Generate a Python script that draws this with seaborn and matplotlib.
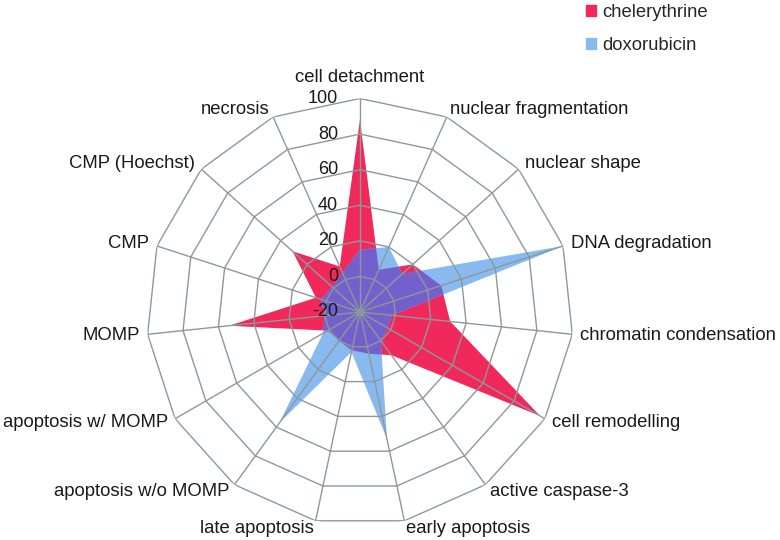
import numpy as np
import matplotlib
matplotlib.use("Agg")
import matplotlib.pyplot as plt
import matplotlib.transforms as mtransforms
from matplotlib.patches import Patch
import seaborn as sns

# values
categories = ['cell detachment', 'nuclear fragmentation', 'nuclear shape', 'DNA degradation',
              'chromatin condensation', 'cell remodelling', 'active caspase-3', 'early apoptosis',
              'late apoptosis', 'apoptosis w/o MOMP', 'apoptosis w/ MOMP', 'MOMP', 'CMP',
              'CMP (Hoechst)', 'necrosis']
chelerythrine = [88, 6, 20, 28, 31, 97, 10, 4, 2, 0, 1, 54, 6, 31, 8]
doxorubicin = [15, 20, 12, 100, -2, -2, 0, 53, 3, 57, 4, 0, 3, 1, 4]
rticks = [-20, 0, 20, 40, 60, 80, 100]
series_names = ['chelerythrine', 'doxorubicin']

sns.set_style("white")
plt.rcParams['font.family'] = ['Liberation Sans', 'DejaVu Sans']

red = '#f0295a'
blue = '#88baf0'
purple = '#7360cc'
gridc = '#8e9898'

n = len(categories)
rmin, rmax = rticks[0], rticks[-1]
theta = np.arange(n) * 2 * np.pi / n


def radial(phi, vals):
    # radius of the straight-edged polygon along each ray phi (radius measured from centre)
    s = np.asarray(vals, float) - rmin
    step = 2 * np.pi / n
    idx = np.floor(phi / step).astype(int) % n
    t = phi - idx * step
    r1 = s[idx]
    r2 = s[(idx + 1) % n]
    return r1 * r2 * np.sin(step) / (r1 * np.sin(t) + r2 * np.sin(step - t)) + rmin


fig = plt.figure(figsize=(7.8, 5.4), dpi=100)
ax = fig.add_axes([0.1878, 0.0269, 0.5474, 0.7907], projection='polar')
ax.set_theta_zero_location('N')
ax.set_theta_direction(-1)
ax.set_ylim(rmin, rmax)
ax.grid(False)
ax.spines['polar'].set_visible(False)
ax.set_xticks([])
ax.set_yticks([])
ax.patch.set_alpha(0)

tc = np.append(theta, theta[0])
ax.fill(tc, chelerythrine + chelerythrine[:1], color=red, lw=0, zorder=1)
ax.fill(tc, doxorubicin + doxorubicin[:1], color=blue, lw=0, zorder=2)

# overlap region
phi = np.linspace(0, 2 * np.pi, 3001)[:-1]
overlap = np.minimum(radial(phi, chelerythrine), radial(phi, doxorubicin))
ax.fill(phi, overlap, color=purple, lw=0, zorder=3)

# polygon grid
for v in rticks[1:]:
    ax.plot(tc, [v] * (n + 1), color=gridc, lw=1.0, zorder=4)
for th in theta:
    ax.plot([th, th], [rmin, rmax], color=gridc, lw=1.0, zorder=4)
ax.plot([0], [rmin], 'o', color=gridc, ms=4, zorder=5)

# radial tick labels left of the top spoke
off = mtransforms.offset_copy(ax.transData, fig=fig, x=-22, y=0, units='dots')
for v in rticks:
    ax.text(0, v, str(v), transform=off, ha='right', va='center', fontsize=13, color='#1a1a1a', zorder=6)

# category labels
for i, (th, lab) in enumerate(zip(theta, categories)):
    if i == 0:
        ax.text(th, rmax + 12, lab, ha='center', va='center', fontsize=13.3, color='#1a1a1a')
    else:
        ha = 'left' if i <= n // 2 else 'right'
        ax.text(th, rmax + 4.5, lab, ha=ha, va='center', fontsize=13.3, color='#1a1a1a')

handles = [Patch(color=red), Patch(color=blue)]
fig.legend(handles, series_names, loc='upper left', bbox_to_anchor=(586 / 780, 1 - 4 / 540),
           frameon=False, fontsize=13.3, handlelength=0.55, handleheight=0.55,
           handletextpad=0.35, labelspacing=0.85, borderpad=0, borderaxespad=0)

fig.savefig('out.png', dpi=100)
